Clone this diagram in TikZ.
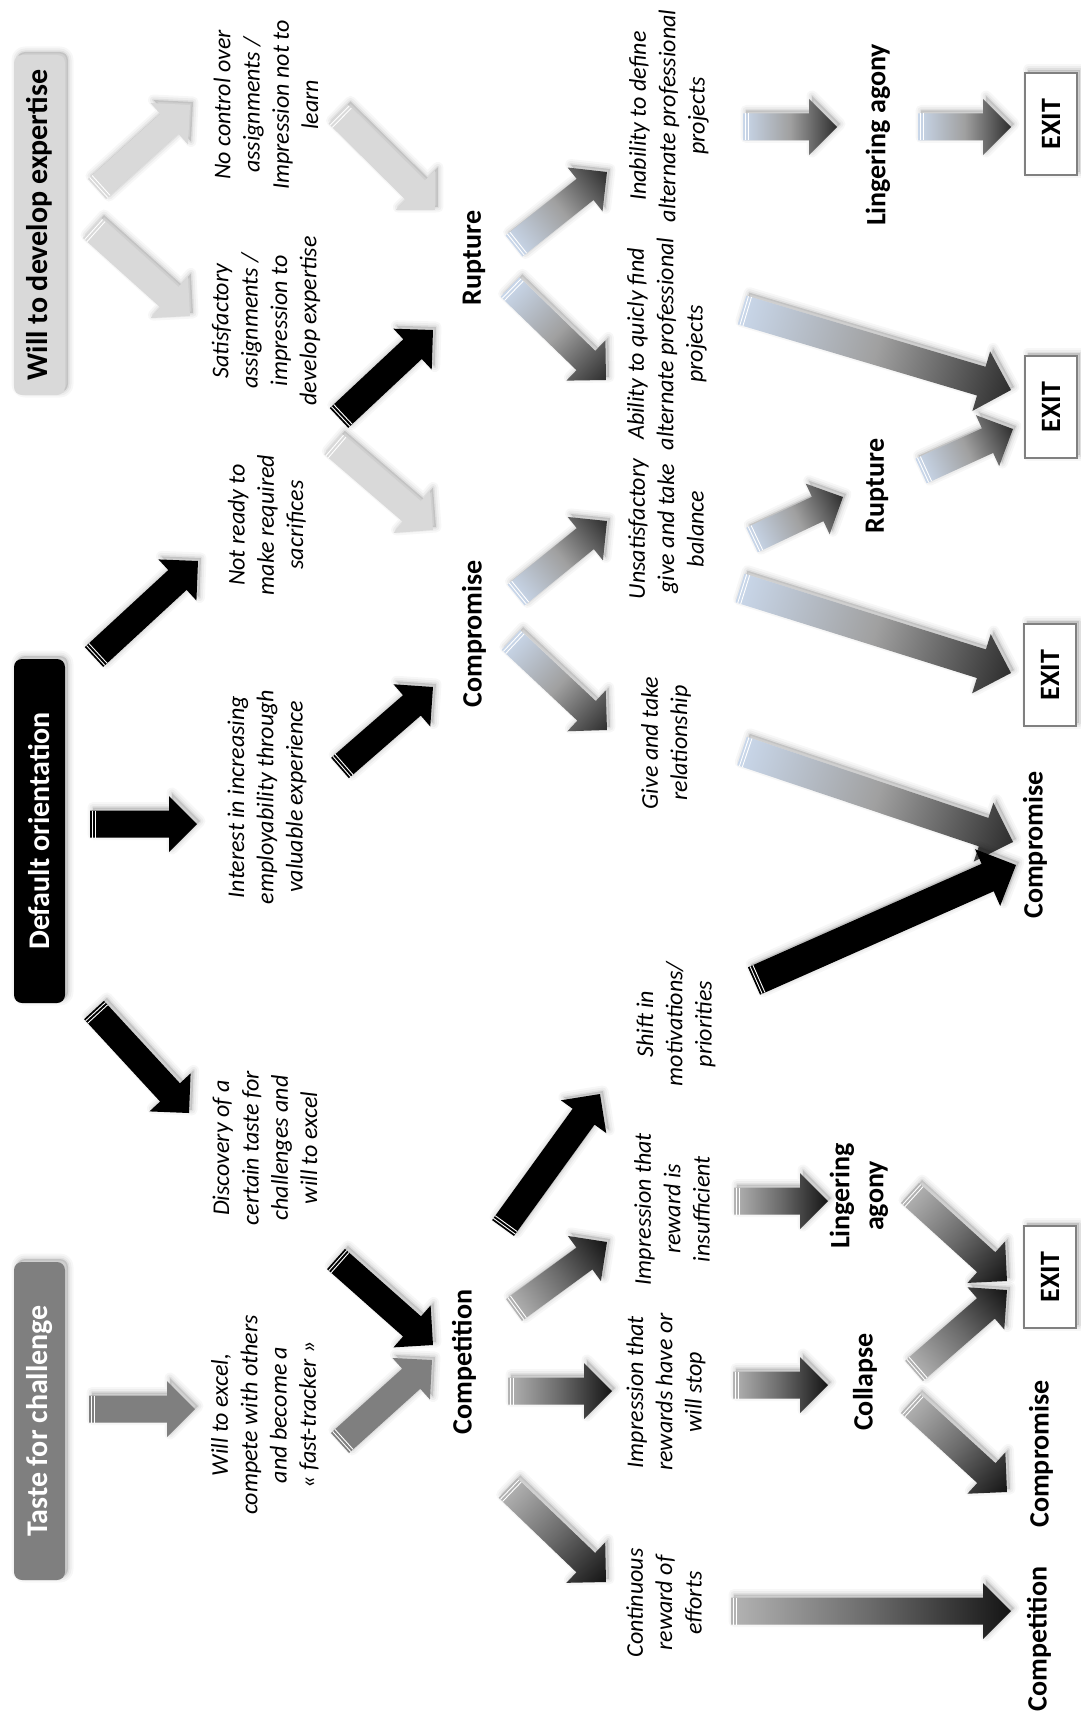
\documentclass[tikz,border=0pt]{standalone}
\usepackage{fontspec}
\setmainfont{Carlito}
\usetikzlibrary{calc}
\definecolor{lightg}{HTML}{D9D9D9}
\definecolor{midg}{HTML}{7F7F7F}
\definecolor{btail}{HTML}{C9D7EA}
\definecolor{bmid}{HTML}{A0A0A0}
\definecolor{btip}{HTML}{2E2E2E}
\definecolor{gtail}{HTML}{B4B4B4}
\definecolor{gmid}{HTML}{6A6A6A}
\definecolor{gtip}{HTML}{141414}
\definecolor{exitb}{HTML}{808080}

\tikzset{
  lightA/.style={fill=lightg},
  blackA/.style={fill=black},
  grayA/.style={fill=midg},
  blueA/.style={left color=btail, right color=btip, middle color=bmid},
  gradA/.style={left color=gtail, right color=gtip, middle color=gmid},
  hdr/.style={rotate=90, rounded corners=8pt, minimum height=51pt, inner sep=0pt,
    font=\fontsize{30pt}{36pt}\selectfont\bfseries},
  itx/.style={rotate=90, align=center, inner sep=0pt,
    font=\fontsize{24pt}{29.3pt}\selectfont\itshape},
  lbl/.style={rotate=90, align=center, inner sep=0pt,
    font=\fontsize{28pt}{34pt}\selectfont\bfseries},
  exitbox/.style={rotate=90, draw=exitb, line width=2pt, fill=white,
    minimum width=102pt, minimum height=52pt, inner sep=0pt,
    font=\fontsize{28pt}{34pt}\selectfont\bfseries}
}

\newcommand\faoutline[1]{\path[#1] (0,-\fah) -- (\fab,-\fah) -- (\fab,-\faH) -- (\falen,0) -- (\fab,\faH) -- (\fab,\fah) -- (0,\fah) -- cycle;}
\newcommand\fatarrow[5]{%
  \pgfpointdiff{\pgfpointanchor{#2}{center}}{\pgfpointanchor{#3}{center}}%
  \pgfgetlastxy{\fadx}{\fady}%
  \pgfmathsetmacro\faang{atan2(\fady,\fadx)}%
  \pgfmathsetmacro\falen{100*veclen(\fadx/100,\fady/100)}%
  \pgfmathsetmacro\fab{\falen-#5}%
  \def\fah{#4}\def\faH{#5}%
  \pgfmathsetmacro\fasx{3*cos(\faang)+3*sin(\faang)}%
  \pgfmathsetmacro\fasy{3*cos(\faang)-3*sin(\faang)}%
  \begin{scope}[transform canvas={shift={(#2)},rotate=\faang}]
    \foreach \lw/\op in {11/0.03,7/0.04,3/0.055}{%
      \faoutline{fill=black,draw=black,fill opacity=\op,draw opacity=\op,line width=\lw pt,line join=round,xshift=\fasx pt,yshift=\fasy pt}}
    \faoutline{#1}
    \draw[white,line width=0.9pt] (2.3,-\fah) -- (2.3,\fah) (5.4,-\fah) -- (5.4,\fah);
  \end{scope}}
\newcommand\boxshadow[5]{%
  \foreach \lw/\op in {11/0.03,7/0.04,3/0.055}{%
    \path[fill=black,draw=black,fill opacity=\op,draw opacity=\op,line width=\lw pt,line join=round,rounded corners=#5,shift={(3,-3)}] (#1,#2) rectangle (#3,#4);}}

\begin{document}
\begin{tikzpicture}[x=1pt,y=-1pt]
\fill[white] (0,0) rectangle (1081,1718);
\useasboundingbox (0,0) rectangle (1081,1718);

% ---------- header boxes ----------
\boxshadow{14}{55}{65}{395}{8pt}
\boxshadow{14}{659}{65}{1003}{8pt}
\boxshadow{14}{1262}{65}{1580}{8pt}
\node[hdr, fill=lightg, text=black, minimum width=340pt] (hW) at (39.5,225) {Will to develop expertise};
\node[hdr, fill=black, text=white, minimum width=344pt] (hD) at (39.5,831) {Default orientation};
\node[hdr, fill=midg, text=white, minimum width=318pt] (hT) at (39.5,1421) {Taste for challenge};

% ---------- EXIT boxes ----------
\boxshadow{1025}{73}{1077}{175}{0pt}
\boxshadow{1025}{356}{1077}{458}{0pt}
\boxshadow{1024}{624}{1076}{726}{0pt}
\boxshadow{1024}{1226}{1076}{1328}{0pt}
\node[exitbox] (e1) at (1051,124) {EXIT};
\node[exitbox] (e2) at (1051,407) {EXIT};
\node[exitbox] (e3) at (1050,675) {EXIT};
\node[exitbox] (e4) at (1050,1277) {EXIT};

% ---------- arrow end points ----------
\coordinate (a1t) at (97,189);   \coordinate (a1h) at (190,105);
\coordinate (a2t) at (92,228);   \coordinate (a2h) at (190,316);
\coordinate (a3t) at (94,657);   \coordinate (a3h) at (198,561);
\coordinate (a4t) at (90,824);   \coordinate (a4h) at (197,824);
\coordinate (a5t) at (94,1010);  \coordinate (a5h) at (189,1113);
\coordinate (a6t) at (89,1409);  \coordinate (a6h) at (195,1409);
\coordinate (b1t) at (338,114);  \coordinate (b1h) at (435,210);
\coordinate (b2t) at (339,418);  \coordinate (b2h) at (433,330);
\coordinate (b3t) at (333,444);  \coordinate (b3h) at (433,530);
\coordinate (b4t) at (340,768);  \coordinate (b4h) at (433,687);
\coordinate (b5t) at (336,1259); \coordinate (b5h) at (433,1345);
\coordinate (b6t) at (340,1443); \coordinate (b6h) at (432,1360);
\coordinate (c1t) at (514,246);  \coordinate (c1h) at (607,172);
\coordinate (c2t) at (510,287);  \coordinate (c2h) at (606,380);
\coordinate (c3t) at (516,595);  \coordinate (c3h) at (607,521);
\coordinate (c4t) at (511,640);  \coordinate (c4h) at (607,730);
\coordinate (c5t) at (503,1228); \coordinate (c5h) at (600,1094);
\coordinate (c6t) at (514,1310); \coordinate (c6h) at (607,1242);
\coordinate (c7t) at (508,1391); \coordinate (c7h) at (612,1391);
\coordinate (c8t) at (508,1488); \coordinate (c8h) at (606,1582);
\coordinate (d1t) at (743,127);  \coordinate (d1h) at (837,127);
\coordinate (d2t) at (918,127);  \coordinate (d2h) at (1011,127);
\coordinate (d3t) at (742,310);  \coordinate (d3h) at (1011,390);
\coordinate (d4t) at (752,540);  \coordinate (d4h) at (843,497);
\coordinate (d5t) at (921,471);  \coordinate (d5h) at (1013,429);
\coordinate (d6t) at (740,588);  \coordinate (d6h) at (1011,673);
\coordinate (d7t) at (742,751);  \coordinate (d7h) at (1013,842);
\coordinate (d8t) at (754,981);  \coordinate (d8h) at (1016,865);
\coordinate (d9t) at (734,1201); \coordinate (d9h) at (828,1201);
\coordinate (d10t) at (910,1193); \coordinate (d10h) at (1007,1281);
\coordinate (d11t) at (733,1385); \coordinate (d11h) at (828,1385);
\coordinate (d12t) at (914,1371); \coordinate (d12h) at (1007,1290);
\coordinate (d13t) at (910,1403); \coordinate (d13h) at (1007,1492);
\coordinate (d14t) at (731,1611); \coordinate (d14h) at (1011,1611);

% ---------- arrows ----------
\fatarrow{lightA}{a1t}{a1h}{13.5}{28}
\fatarrow{lightA}{a2t}{a2h}{13.5}{28}
\fatarrow{blackA}{a3t}{a3h}{13.5}{28}
\fatarrow{blackA}{a4t}{a4h}{13.5}{28}
\fatarrow{blackA}{a5t}{a5h}{13.5}{28}
\fatarrow{grayA}{a6t}{a6h}{13.5}{28}
\fatarrow{lightA}{b1t}{b1h}{13.5}{28}
\fatarrow{blackA}{b2t}{b2h}{13.5}{28}
\fatarrow{lightA}{b3t}{b3h}{13.5}{28}
\fatarrow{blackA}{b4t}{b4h}{13.5}{28}
\fatarrow{blackA}{b5t}{b5h}{13.5}{28}
\fatarrow{grayA}{b6t}{b6h}{13.5}{28}
\fatarrow{blueA}{c1t}{c1h}{13.5}{28}
\fatarrow{blueA}{c2t}{c2h}{13.5}{28}
\fatarrow{blueA}{c3t}{c3h}{13.5}{28}
\fatarrow{blueA}{c4t}{c4h}{13.5}{28}
\fatarrow{blackA}{c5t}{c5h}{13.5}{28}
\fatarrow{gradA}{c6t}{c6h}{13.5}{28}
\fatarrow{gradA}{c7t}{c7h}{13.5}{28}
\fatarrow{gradA}{c8t}{c8h}{13.5}{28}
\fatarrow{blueA}{d1t}{d1h}{13.5}{28}
\fatarrow{blueA}{d2t}{d2h}{13.5}{28}
\fatarrow{blueA}{d3t}{d3h}{15}{31}
\fatarrow{blueA}{d4t}{d4h}{13.5}{28}
\fatarrow{blueA}{d5t}{d5h}{13.5}{28}
\fatarrow{blueA}{d6t}{d6h}{15}{31}
\fatarrow{blueA}{d7t}{d7h}{15}{31}
\fatarrow{blackA}{d8t}{d8h}{15}{31}
\fatarrow{gradA}{d9t}{d9h}{13.5}{28}
\fatarrow{gradA}{d10t}{d10h}{13.5}{28}
\fatarrow{gradA}{d11t}{d11h}{13.5}{28}
\fatarrow{gradA}{d12t}{d12h}{13.5}{28}
\fatarrow{gradA}{d13t}{d13h}{13.5}{28}
\fatarrow{gradA}{d14t}{d14h}{13.5}{28}

% ---------- italic texts ----------
\node[itx] (t1) at (266,105) {No control over\\assignments /\\Impression not to\\learn};
\node[itx] (t2) at (266,321) {Satisfactory\\assignments /\\impression to\\develop expertise};
\node[itx] (t3) at (267,525) {Not ready to\\make required\\sacrifices};
\node[itx] (t4) at (267,797) {Interest in increasing\\employability through\\valuable experience};
\node[itx] (t5) at (265,1148) {Discovery of a\\certain taste for\\challenges and\\will to excel};
\node[itx] (t6) at (265,1415) {Will to excel,\\compete with others\\and become a\\« fast-tracker »};
\node[itx] (t7) at (669,116) {Inability to define\\alternate professional\\projects};
\node[itx] (t8) at (667,344) {Ability to quicly find\\alternate professional\\projects};
\node[itx] (t9) at (666,529) {Unsatisfactory\\give and take\\balance};
\node[itx] (t10) at (666,743) {Give and take\\relationship};
\node[itx] (t11) at (676,1024) {Shift in\\motivations/\\priorities};
\node[itx] (t12) at (672,1209) {Impression that\\reward is\\insufficient};
\node[itx] (t13) at (666,1392) {Impression that\\rewards have or\\will stop};
\node[itx] (t14) at (664,1603) {Continuous\\reward of\\efforts};

% ---------- bold labels ----------
\node[lbl] (r1) at (474,258) {Rupture};
\node[lbl] (cp1) at (474,634) {Compromise};
\node[lbl] (ct1) at (464,1362) {Competition};
\node[lbl] (la1) at (878,135) {Lingering agony};
\node[lbl] (r2) at (877,486) {Rupture};
\node[lbl] (cp2) at (1035,845) {Compromise};
\node[lbl] (la2) at (859,1196) {Lingering\\agony};
\node[lbl] (col) at (865,1382) {Collapse};
\node[lbl] (cp3) at (1041,1454) {Compromise};
\node[lbl] (ct2) at (1039,1639) {Competition};
\end{tikzpicture}
\end{document}
